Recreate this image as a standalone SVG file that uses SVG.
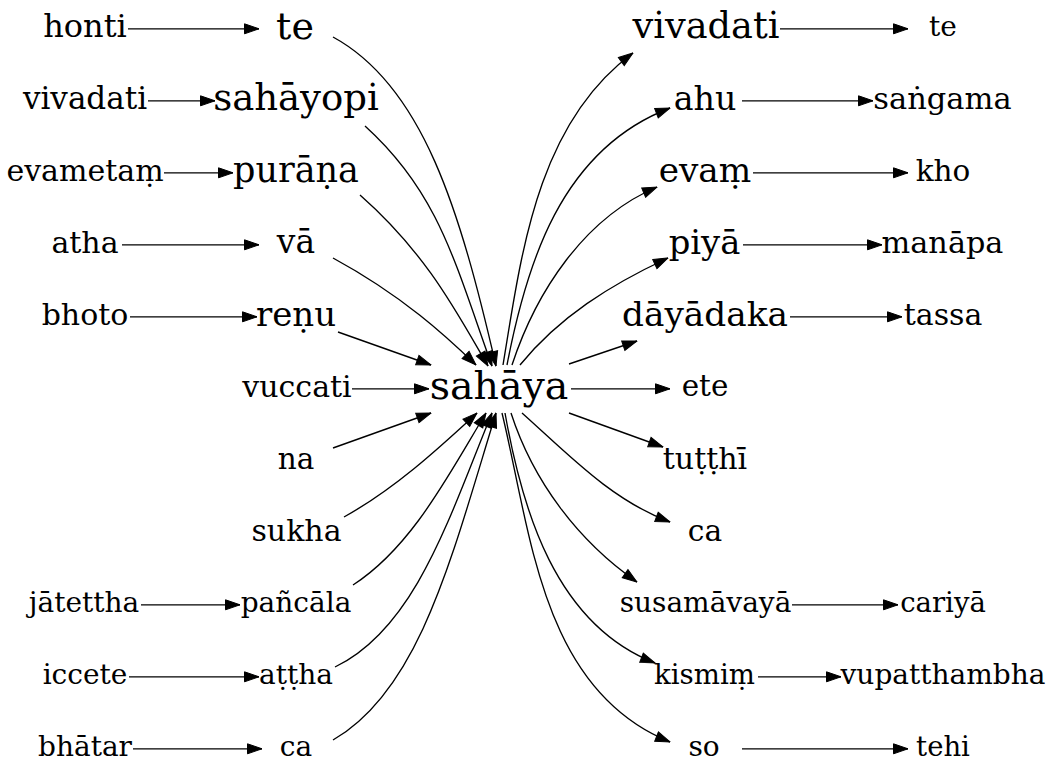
<svg xmlns="http://www.w3.org/2000/svg" width="1052" height="779" viewBox="0 0 1052 779">
<style>
text { font-family: "DejaVu Serif", "Liberation Serif", serif; fill: #000; text-anchor: middle; }
.edge path { fill: none; stroke: #000; stroke-width: 1.35; marker-end: url(#arrow); }
</style>
<defs>
<marker id="arrow" markerUnits="userSpaceOnUse" markerWidth="16" markerHeight="12" refX="14.5" refY="5" orient="auto" viewBox="-1 -1 16 12">
<path d="M0,0 L14.5,5 L0,10 z" fill="#000" stroke="#000" stroke-width="1"/>
</marker>
</defs>
<rect width="1052" height="779" fill="#fff"/>
<g id="edges" class="edge">
<path d="M128,28.8 H259"/>
<path d="M148,100.8 H215"/>
<path d="M164,172.8 H233"/>
<path d="M122,244.8 H259"/>
<path d="M130,316.8 H257"/>
<path d="M352,388.8 H429"/>
<path d="M141,604.8 H240"/>
<path d="M129,676.8 H259"/>
<path d="M133,748.8 H262"/>
<path d="M780,28.8 H908"/>
<path d="M742,100.8 H873"/>
<path d="M753,172.8 H908"/>
<path d="M743,244.8 H882"/>
<path d="M790,316.8 H902"/>
<path d="M571,388.8 H670"/>
<path d="M792,604.8 H898"/>
<path d="M758,676.8 H841"/>
<path d="M742,748.8 H908"/>
<path d="M333,37 C423,86 460,210 496,366"/>
<path d="M365,126 C439,193 455,263 492,366"/>
<path d="M360,195 C427,254 457,313 488,366"/>
<path d="M333,258 C403,296 447,337 476,365"/>
<path d="M338,332 L431,365"/>
<path d="M333,448 L431,413"/>
<path d="M344,517 C396,488 440,447 477,413"/>
<path d="M353,585 C412,547 449,474 486,413"/>
<path d="M335,667 C416,628 450,515 492,413"/>
<path d="M333,740 C420,690 452,556 496,413"/>
<path d="M503,365 C521,257 536,124 633,53"/>
<path d="M507,365 C526,266 560,150 670,108"/>
<path d="M512,365 C536,292 584,218 657,187"/>
<path d="M520,365 C559,317 610,285 668,258"/>
<path d="M569,364 L637,341"/>
<path d="M569,413 L663,447"/>
<path d="M522,413 C568,454 611,500 670,522"/>
<path d="M511,413 C533,481 578,541 637,582"/>
<path d="M505,413 C522,509 555,624 655,663"/>
<path d="M502,413 C531,532 541,690 670,742"/>
</g>
<g id="n_honti"><text x="85" y="37.3" font-size="32">honti</text></g>
<g id="n_vivadati_l"><text x="85" y="108.9" font-size="31">vivadati</text></g>
<g id="n_evametam"><text x="85" y="180.6" font-size="30">evametaṃ</text></g>
<g id="n_atha"><text x="85" y="252.6" font-size="30">atha</text></g>
<g id="n_bhoto"><text x="85" y="324.6" font-size="30">bhoto</text></g>
<g id="n_jatettha"><text x="84" y="612.1" font-size="28">jātettha</text></g>
<g id="n_iccete"><text x="85" y="684.1" font-size="28">iccete</text></g>
<g id="n_bhatar"><text x="85" y="756.1" font-size="28">bhātar</text></g>
<g id="n_te_l"><text x="295" y="38.7" font-size="38">te</text></g>
<g id="n_sahayopi"><text x="296" y="110.4" font-size="37">sahāyopi</text></g>
<g id="n_purana"><text x="296" y="181.9" font-size="35">purāṇa</text></g>
<g id="n_va"><text x="296" y="253.4" font-size="33">vā</text></g>
<g id="n_renu"><text x="296" y="325.6" font-size="34">reṇu</text></g>
<g id="n_vuccati"><text x="297" y="396.6" font-size="30">vuccati</text></g>
<g id="n_na"><text x="296" y="468.5" font-size="29.5">na</text></g>
<g id="n_sukha"><text x="296.5" y="540.6" font-size="30">sukha</text></g>
<g id="n_pancala"><text x="296" y="612.1" font-size="28">pañcāla</text></g>
<g id="n_attha"><text x="296" y="684.1" font-size="28">aṭṭha</text></g>
<g id="n_ca_l"><text x="296" y="756.1" font-size="28">ca</text></g>
<g id="n_sahaya"><text x="499" y="399.1" font-size="39.5">sahāya</text></g>
<g id="n_vivadati_r"><text x="706" y="38.3" font-size="36.7">vivadati</text></g>
<g id="n_ahu"><text x="705" y="109.5" font-size="33.3">ahu</text></g>
<g id="n_evam"><text x="705" y="181.7" font-size="34.3">evaṃ</text></g>
<g id="n_piya"><text x="704.5" y="253.6" font-size="33.8">piyā</text></g>
<g id="n_dayadaka"><text x="705" y="325.7" font-size="34.3">dāyādaka</text></g>
<g id="n_ete"><text x="705" y="396.4" font-size="29.4">ete</text></g>
<g id="n_tutthi"><text x="705" y="468.6" font-size="30">tuṭṭhī</text></g>
<g id="n_ca_r"><text x="705" y="540.5" font-size="29.7">ca</text></g>
<g id="n_susamavaya"><text x="705.5" y="612.1" font-size="28">susamāvayā</text></g>
<g id="n_kismim"><text x="704.5" y="684.1" font-size="27.6">kismiṃ</text></g>
<g id="n_so"><text x="704" y="756.1" font-size="28">so</text></g>
<g id="n_te_r"><text x="943" y="36.1" font-size="28">te</text></g>
<g id="n_sangama"><text x="942.5" y="108.7" font-size="30.5">saṅgama</text></g>
<g id="n_kho"><text x="943" y="180.5" font-size="29.5">kho</text></g>
<g id="n_manapa"><text x="942.5" y="252.7" font-size="30.3">manāpa</text></g>
<g id="n_tassa"><text x="943" y="324.6" font-size="30">tassa</text></g>
<g id="n_cariya"><text x="943" y="612.1" font-size="27.5">cariyā</text></g>
<g id="n_vupatthambha"><text x="943" y="684.1" font-size="28">vupatthambha</text></g>
<g id="n_tehi"><text x="943" y="756.1" font-size="27.5">tehi</text></g>
</svg>
